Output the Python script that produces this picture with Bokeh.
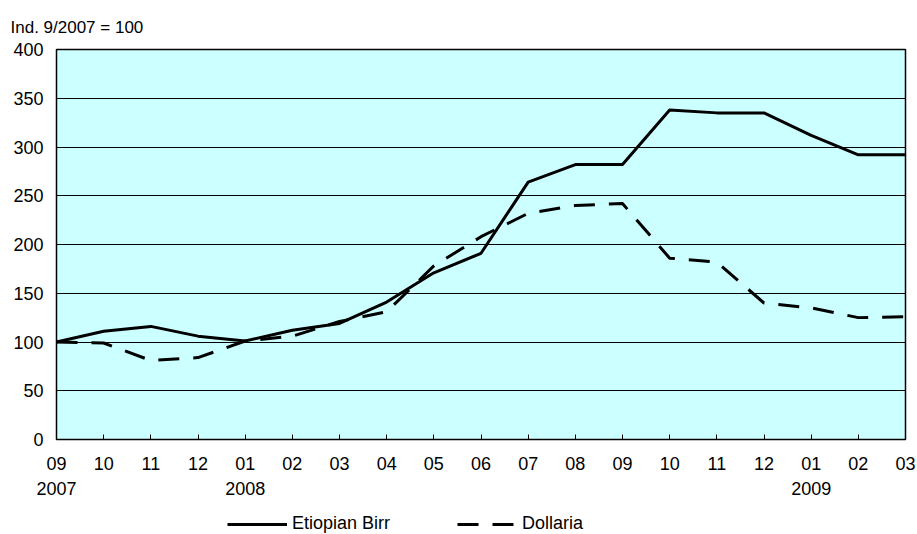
from bokeh.plotting import figure
from bokeh.models import (Range1d, FixedTicker, LinearAxis, Legend, LegendItem, Title)
from bokeh.layouts import column
from bokeh.embed import file_html
from bokeh.resources import INLINE

# ---- data ----
months = ["09", "10", "11", "12", "01", "02", "03", "04", "05", "06",
          "07", "08", "09", "10", "11", "12", "01", "02", "03"]
birr = [100, 111, 116, 106, 101, 112, 119, 141, 171, 191,
        264, 282, 282, 338, 335, 335, 312, 292, 292]
dollar = [100, 99, 81, 84, 101, 106, 121, 131, 178, 208,
          232, 240, 242, 186, 182, 140, 135, 125, 126]
year_pos = [0, 4, 16]
year_labels = ["2007", "2008", "2009"]
y_ticks = [0, 50, 100, 150, 200, 250, 300, 350, 400]
caption = "Ind. 9/2007 = 100"
series_names = ["Etiopian Birr", "Dollaria"]

FONT = "Liberation Sans"
FS = "18px"
x = list(range(len(months)))

p = figure(width=917, height=505, output_backend="svg", toolbar_location=None,
           x_range=Range1d(0, len(months) - 1), y_range=Range1d(0, 400),
           min_border_left=56, min_border_right=12, min_border_top=49,
           min_border_bottom=66)
p.background_fill_color = "#CCFFFF"
p.border_fill_color = "white"
p.outline_line_color = "black"
p.outline_line_width = 1.5

# lines
p.line(x, birr, line_color="black", line_width=3)
p.line(x, dollar, line_color="black", line_width=3, line_dash="21 14")

# grids
p.xgrid.visible = False
p.ygrid.ticker = FixedTicker(ticks=y_ticks)
p.ygrid.grid_line_color = "black"
p.ygrid.grid_line_width = 1

# y axis
p.yaxis.ticker = FixedTicker(ticks=y_ticks)
p.yaxis.major_tick_in = 0
p.yaxis.major_tick_out = 0
p.yaxis.minor_tick_line_color = None
p.yaxis.major_label_standoff = 13
p.yaxis.major_label_text_font = FONT
p.yaxis.major_label_text_font_size = FS
p.yaxis.major_label_text_color = "black"
p.yaxis.axis_line_color = "black"

# x axis (months)
p.xaxis.ticker = FixedTicker(ticks=x)
p.xaxis.major_label_overrides = {i: m for i, m in enumerate(months)}
p.xaxis.major_tick_in = 5
p.xaxis.major_tick_out = 0
p.xaxis.minor_tick_line_color = None
p.xaxis.major_label_standoff = 17
p.xaxis.major_label_text_font = FONT
p.xaxis.major_label_text_font_size = FS
p.xaxis.major_label_text_color = "black"
p.xaxis.axis_line_color = "black"

# year axis
ya = LinearAxis(ticker=FixedTicker(ticks=year_pos),
                major_label_overrides={p_: l for p_, l in zip(year_pos, year_labels)})
ya.axis_line_color = None
ya.major_tick_line_color = None
ya.minor_tick_line_color = None
ya.major_label_standoff = 3
ya.major_label_text_font = FONT
ya.major_label_text_font_size = FS
ya.major_label_text_color = "black"
p.add_layout(ya, "below")

# caption
p.add_layout(Title(text=caption, align="left", offset=-46, standoff=26,
                   text_font=FONT, text_font_size="17px", text_font_style="normal",
                   text_color="black"), "above")

# legend strip (separate figure below the chart; the series lie outside its view)
lg = figure(width=917, height=29, output_backend="svg", toolbar_location=None,
            x_axis_type=None, y_axis_type=None, min_border=0,
            x_range=Range1d(0, 1), y_range=Range1d(0, 1))
lg.outline_line_color = None
lg.background_fill_color = "white"
lg.xgrid.visible = False
lg.ygrid.visible = False
l1 = lg.line(x, birr, line_color="black", line_width=3)
l2 = lg.line(x, dollar, line_color="black", line_width=3, line_dash="21 14")
legend = Legend(items=[LegendItem(label=series_names[0], renderers=[l1]),
                       LegendItem(label=series_names[1], renderers=[l2])],
                orientation="horizontal", location=(171, 0),
                glyph_width=60, glyph_height=20, label_standoff=5, spacing=67,
                padding=0, margin=0, border_line_color=None,
                background_fill_alpha=0,
                label_text_font=FONT, label_text_font_size=FS,
                label_text_color="black")
lg.add_layout(legend)

layout = column(p, lg, spacing=0)
open("out.html", "w").write(file_html(layout, INLINE))
